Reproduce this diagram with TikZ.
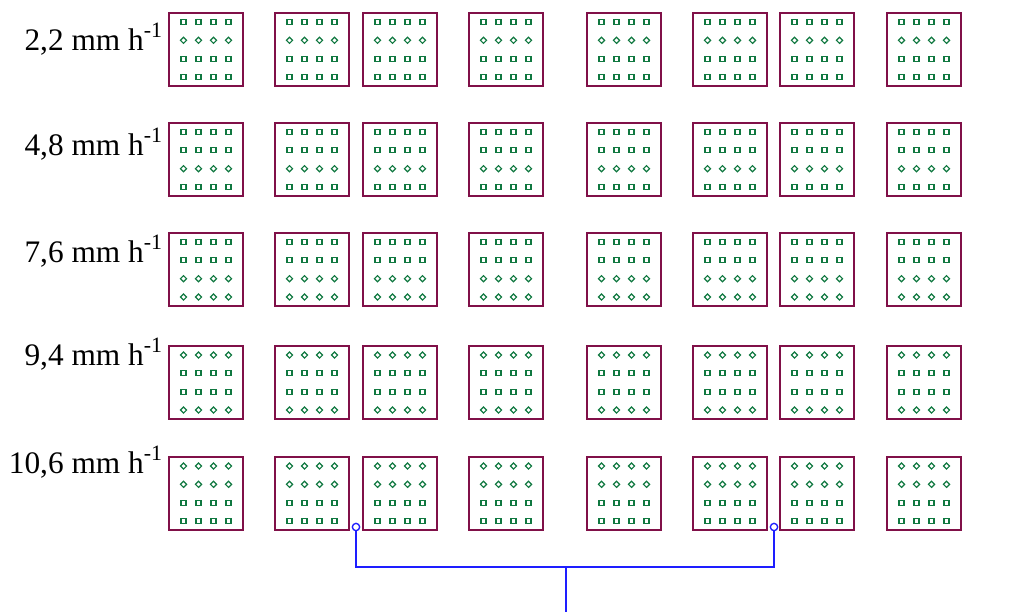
\documentclass[tikz,border=0pt]{standalone}
\usepackage{fontspec}
\setmainfont{Liberation Serif}
\usepackage{xcolor}
\usetikzlibrary{shapes.geometric}
\definecolor{cellred}{RGB}{128,16,72}
\definecolor{dotgreen}{RGB}{16,120,64}
\definecolor{wireblue}{RGB}{30,30,255}

\begin{document}
\begin{tikzpicture}[
    x=0.75pt, y=-0.75pt,
    cell/.style={rectangle, draw=cellred, line width=1.5pt,
                 minimum width=55.5pt, minimum height=55pt, inner sep=0pt},
    dots/.style={rectangle, draw=dotgreen, line width=0.9pt, minimum size=3.8pt, inner sep=0pt},
    dotd/.style={diamond, draw=dotgreen, line width=0.9pt, minimum size=5pt, inner sep=0pt},
    rate/.style={anchor=base east, inner sep=0pt, font=\fontsize{23.5}{28}\selectfont},
    tap/.style={circle, draw=wireblue, fill=white, line width=1pt, minimum size=5.5pt, inner sep=0pt},
    wire/.style={draw=wireblue, line width=1.2pt}
  ]
    \useasboundingbox (0,0) rectangle (1027,612);

    \foreach \r/\t/\base in {1/{2,2}/50, 2/{4,8}/155, 3/{7,6}/262, 4/{9,4}/365, 5/{10,6}/473}
      \node[rate] (rate-\r) at (163,\base) {\t{} mm h\textsuperscript{-1}};

    \foreach \r/\y/\pa/\pb/\pc/\pd in {1/49.5/s/d/s/s, 2/159.5/s/s/d/s, 3/269.5/s/s/d/d,
                                       4/382.5/d/s/s/d, 5/493.5/d/d/s/s}
      \foreach \c/\x in {1/206, 2/312, 3/400, 4/506, 5/624, 6/730, 7/817, 8/924} {
        \node[cell] (cell-\r-\c) at (\x,\y) {};
        \foreach \k/\dy [count=\j] in {\pa/-27.5, \pb/-9.2, \pc/9.2, \pd/27.5}
          \foreach \dx [count=\i] in {-22.5,-7.5,7.5,22.5}
            \node[dot\k] (dot-\r-\c-\j-\i) at (\x+\dx,\y+\dy) {};
      }

    \node[tap] (tap-l) at (356,527) {};
    \node[tap] (tap-r) at (774,527) {};
    \coordinate (join) at (566,567);
    \coordinate (outlet) at (566,612);

    \draw[wire] (tap-l) |- (join) -| (tap-r);
    \draw[wire] (join) -- (outlet);
  \end{tikzpicture}
\end{document}
